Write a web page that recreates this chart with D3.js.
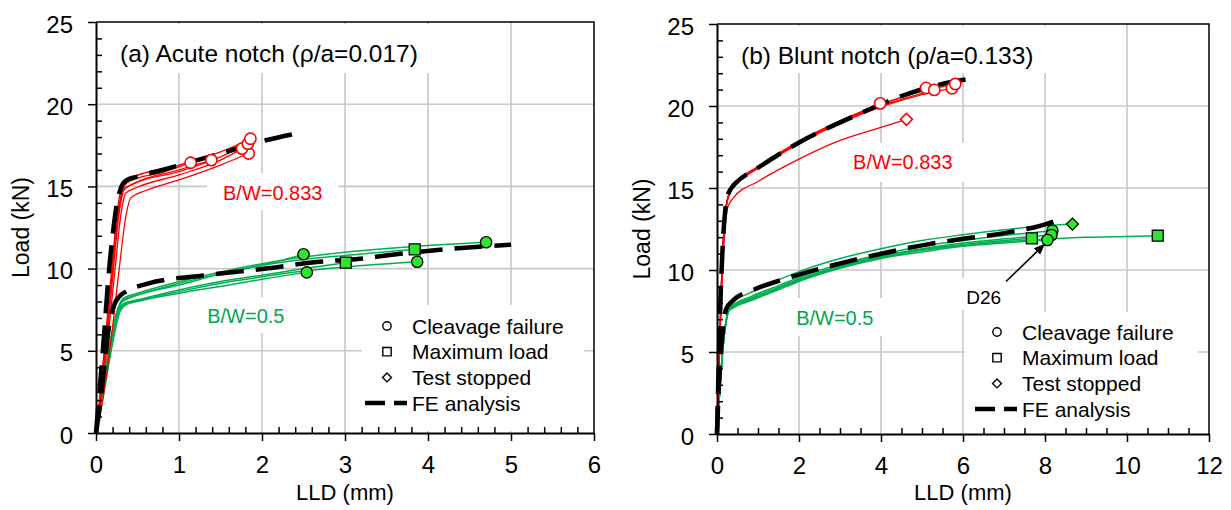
<!DOCTYPE html>
<html>
<head>
<meta charset="utf-8">
<title>Load vs LLD</title>
<script src="https://d3js.org/d3.v7.min.js" charset="utf-8"></script>
<style>
  body { margin: 0; background: #fff; }
  text { font-family: "Liberation Sans", Arial, sans-serif; }
</style>
</head>
<body>
<script>
// ---- data: [LLD (mm), Load (kN)] ----
var acuteRed = [
  [[0,0],[0.05,2],[0.12,5.6],[0.2,10],[0.27,13.5],[0.32,14.8],[0.4,15.3],[0.8,15.85],[1.14,16.44]],
  [[0,0],[0.05,2],[0.13,5.6],[0.21,10],[0.28,13.4],[0.34,14.8],[0.45,15.15],[1.0,16.0],[1.39,16.6]],
  [[0,0],[0.04,2],[0.11,5.6],[0.19,10],[0.26,13.6],[0.31,15.0],[0.4,15.45],[1.0,16.3],[1.5,17.1],[1.86,17.9]],
  [[0,0],[0.05,2],[0.12,5.6],[0.2,10],[0.27,13.4],[0.33,14.8],[0.45,15.15],[1.0,15.9],[1.5,16.8],[1.83,17.6]],
  [[0,0],[0.06,2],[0.14,5.6],[0.23,10],[0.3,13.3],[0.36,14.6],[0.5,14.95],[1.0,15.7],[1.5,16.6],[1.76,17.3]],
  [[0,0],[0.08,2],[0.18,5.6],[0.28,10],[0.36,13.2],[0.42,14.3],[0.6,14.75],[1.0,15.4],[1.5,16.3],[1.84,17.0]]
];
var acuteGreen = [
  [[0,0],[0.06,2],[0.16,5.2],[0.26,7.4],[0.32,8.0],[0.45,8.3],[1.0,9.0],[1.6,9.8],[2.0,10.2],[2.5,10.87]],
  [[0,0],[0.08,2],[0.19,5.2],[0.29,7.4],[0.36,7.8],[0.5,8.0],[1.0,8.5],[1.6,9.0],[2.0,9.35],[2.54,9.77]],
  [[0,0],[0.07,2],[0.17,5.2],[0.27,7.4],[0.34,7.9],[0.5,8.1],[1.0,8.7],[1.6,9.3],[2.0,9.6],[2.5,10.0],[3.01,10.36]],
  [[0,0],[0.06,2],[0.16,5.2],[0.26,7.5],[0.33,8.1],[0.5,8.4],[1.0,9.1],[1.6,9.8],[2.0,10.2],[2.5,10.55],[3.0,10.8],[3.84,11.17]],
  [[0,0],[0.07,2],[0.18,5.2],[0.28,7.4],[0.35,7.85],[0.5,8.05],[1.0,8.6],[1.6,9.2],[2.0,9.5],[2.5,9.85],[3.0,10.1],[3.87,10.42]],
  [[0,0],[0.06,2],[0.16,5.2],[0.26,7.5],[0.33,8.2],[0.5,8.5],[1.0,9.2],[1.6,9.9],[2.0,10.3],[2.5,10.7],[3.0,11.0],[3.84,11.35],[4.7,11.6]]
];
var acuteFE = [
  [[0,0],[0.03,1.8],[0.09,5.5],[0.15,9.5],[0.2,12],[0.25,13.9],[0.3,14.9],[0.36,15.35],[0.5,15.6],[0.8,16.0],[1.5,17.0],[2.0,17.75],[2.5,18.3]],
  [[0,0],[0.04,1.4],[0.1,4.0],[0.16,6.6],[0.22,7.8],[0.28,8.3],[0.36,8.6],[0.6,9.06],[1.33,9.6],[2.0,9.97],[2.66,10.4],[3.18,10.6],[3.66,10.9],[4.27,11.2],[5.0,11.45]]
];
var acuteMarks = [
  {x:1.14,y:16.44,shape:"circle",grp:"red"},{x:1.39,y:16.6,shape:"circle",grp:"red"},
  {x:1.84,y:17.0,shape:"circle",grp:"red"},{x:1.76,y:17.3,shape:"circle",grp:"red"},
  {x:1.83,y:17.6,shape:"circle",grp:"red"},{x:1.86,y:17.9,shape:"circle",grp:"red"},
  {x:2.5,y:10.87,shape:"circle",grp:"green"},{x:2.54,y:9.77,shape:"circle",grp:"green"},
  {x:3.01,y:10.36,shape:"square",grp:"green"},{x:3.84,y:11.17,shape:"square",grp:"green"},
  {x:3.87,y:10.42,shape:"circle",grp:"green"},{x:4.7,y:11.6,shape:"circle",grp:"green"}
];

var bluntRed = [
  [[0,0],[0.05,4],[0.1,8.5],[0.16,12],[0.22,13.8],[0.3,14.7],[0.5,15.4],[1.0,16.3],[2.0,17.8],[3.0,19.05],[3.98,20.16]],
  [[0,0],[0.05,4],[0.1,8.5],[0.16,12],[0.22,13.8],[0.3,14.6],[0.5,15.3],[1.0,16.2],[2.0,17.75],[3.0,19.0],[4.0,20.05],[5.1,21.1]],
  [[0,0],[0.05,4],[0.1,8.5],[0.16,12],[0.22,13.8],[0.3,14.65],[0.5,15.35],[1.0,16.25],[2.0,17.8],[3.0,19.05],[4.0,20.0],[5.3,20.98]],
  [[0,0],[0.05,4],[0.1,8.5],[0.16,12],[0.22,13.8],[0.3,14.6],[0.5,15.3],[1.0,16.2],[2.0,17.7],[3.0,18.95],[4.0,19.95],[5.0,20.7],[5.73,21.08]],
  [[0,0],[0.05,4],[0.1,8.5],[0.16,12],[0.22,13.8],[0.3,14.7],[0.5,15.4],[1.0,16.3],[2.0,17.85],[3.0,19.1],[4.0,20.1],[5.0,20.9],[5.81,21.34]],
  [[0,0],[0.05,4],[0.11,8.5],[0.18,12],[0.26,13.8],[0.4,14.4],[1.0,15.4],[1.95,16.7],[3.0,17.9],[4.0,18.7],[4.62,19.19]]
];
var bluntGreen = [
  [[0,0],[0.05,2],[0.12,4.5],[0.2,6.5],[0.28,7.5],[0.4,8.0],[0.8,8.6],[1.5,9.4],[2.0,9.9],[3,10.7],[4,11.3],[5,11.8],[6,12.15],[7,12.45],[8,12.7],[8.67,12.8]],
  [[0,0],[0.05,2],[0.12,4.5],[0.2,6.5],[0.28,7.5],[0.4,7.85],[0.8,8.35],[1.5,9.05],[2.0,9.55],[3,10.35],[4,10.95],[5,11.45],[6,11.8],[7,12.1],[8.18,12.4]],
  [[0,0],[0.05,2],[0.12,4.5],[0.2,6.5],[0.28,7.5],[0.4,7.8],[0.8,8.25],[1.5,8.95],[2.0,9.45],[3,10.25],[4,10.85],[5,11.3],[6,11.65],[7,11.9],[8.16,12.13]],
  [[0,0],[0.05,2],[0.12,4.5],[0.2,6.5],[0.28,7.45],[0.4,7.7],[0.8,8.1],[1.5,8.8],[2.0,9.3],[3,10.1],[4,10.7],[5,11.1],[6,11.45],[7,11.65],[8.06,11.83]],
  [[0,0],[0.05,2],[0.12,4.5],[0.2,6.5],[0.28,7.5],[0.4,7.75],[0.8,8.2],[1.5,8.9],[2.0,9.4],[3,10.2],[4,10.8],[5,11.25],[6,11.55],[7,11.8],[7.68,11.93]],
  [[0,0],[0.05,2],[0.12,4.5],[0.2,6.5],[0.28,7.5],[0.4,7.72],[0.8,8.15],[1.5,8.85],[2.0,9.35],[3,10.15],[4,10.75],[5,11.2],[6,11.5],[7,11.72],[8,11.88],[9,12.0],[10,12.05],[10.75,12.09]]
];
var bluntFE = [
  [[0,0],[0.04,4],[0.09,8.5],[0.15,12],[0.2,13.6],[0.26,14.5],[0.35,15.0],[0.49,15.38],[0.98,16.2],[1.95,17.7],[3.41,19.45],[4.55,20.65],[5.5,21.35],[6.3,21.7]],
  [[0,0],[0.03,2],[0.08,4.5],[0.15,6.5],[0.22,7.6],[0.4,8.17],[0.88,8.78],[1.7,9.49],[3.33,10.6],[5,11.5],[6,11.9],[7,12.25],[8.2,12.95],[8.3,13.05]]
];
var bluntMarks = [
  {x:3.98,y:20.16,shape:"circle",grp:"red"},{x:5.1,y:21.1,shape:"circle",grp:"red"},
  {x:5.3,y:20.98,shape:"circle",grp:"red"},{x:5.73,y:21.08,shape:"circle",grp:"red"},
  {x:5.81,y:21.34,shape:"circle",grp:"red"},{x:4.62,y:19.19,shape:"diamond",grp:"red"},
  {x:7.68,y:11.93,shape:"square",grp:"green"},{x:10.75,y:12.09,shape:"square",grp:"green"},
  {x:8.18,y:12.4,shape:"circle",grp:"green"},{x:8.16,y:12.13,shape:"circle",grp:"green"},
  {x:8.06,y:11.83,shape:"circle",grp:"green"},{x:8.67,y:12.8,shape:"diamond",grp:"green"}
];

var yTicks = [0, 5, 10, 15, 20, 25];
var legendItems = ["Cleavage failure", "Maximum load", "Test stopped", "FE analysis"];
var legendShapes = ["circle", "square", "diamond", "dash"];

var RED = "#ff0000", GREEN = "#00b050", GREENTXT = "#00a650", GREENFILL = "#2ee52e";

var svg = d3.select("body").append("svg")
    .attr("width", 1231).attr("height", 510);

svg.append("defs").append("marker").attr("id", "arrowhead")
    .attr("viewBox", "0 0 10 10").attr("refX", 9).attr("refY", 5)
    .attr("markerWidth", 7).attr("markerHeight", 7).attr("orient", "auto")
    .append("path").attr("d", "M0,1 L10,5 L0,9 Z").attr("fill", "#000");

function symbolPath(shape) {
  if (shape == "circle") return d3.symbol(d3.symbolCircle, 100)();
  if (shape == "square") return d3.symbol(d3.symbolSquare, 120)();
  return d3.symbol(d3.symbolSquare, 72)();
}

function drawPanel(p) {
  var x = d3.scaleLinear().domain([0, p.xMax]).range([p.left, p.right]);
  var y = d3.scaleLinear().domain([0, 25]).range([p.bottom, p.top]);

  // gridlines as one path, built from the scales
  var gridD = "";
  d3.range(p.xStep, p.xMax - 1e-9, p.xStep).forEach(function (v) {
    gridD += "M" + x(v) + "," + p.top + "V" + p.bottom;
  });
  yTicks.slice(1, -1).forEach(function (v) {
    gridD += "M" + p.left + "," + y(v) + "H" + p.right;
  });
  svg.append("path").attr("d", gridD).attr("fill", "none")
      .attr("stroke", "#c8c8c8").attr("stroke-width", 1.6);

  // white boxes behind the labels (break the grid like the original)
  svg.append("g").selectAll(null).data(p.boxes).enter().append("rect")
      .attr("x", d => d[0]).attr("y", d => d[1])
      .attr("width", d => d[2] - d[0]).attr("height", d => d[3] - d[1])
      .attr("fill", "#fff");

  var g = svg.append("g");
  var lines = g.append("g");
  var marks = g.append("g");
  var axes = g.append("g");
  var labels = g.append("g");

  var path = d3.line().x(d => x(d[0])).y(d => y(d[1])).curve(d3.curveMonotoneX);

  lines.selectAll(null).data(p.green).enter().append("path")
      .attr("d", path).attr("fill", "none").attr("stroke", GREEN).attr("stroke-width", 1.5);
  lines.selectAll(null).data(p.red).enter().append("path")
      .attr("d", path).attr("fill", "none").attr("stroke", RED).attr("stroke-width", 1.3);
  lines.selectAll(null).data(p.fe).enter().append("path")
      .attr("d", path).attr("fill", "none").attr("stroke", "#000").attr("stroke-width", 4.5)
      .attr("stroke-dasharray", "28,12");

  marks.selectAll(null).data(p.marks).enter().append("path")
      .attr("d", d => symbolPath(d.shape))
      .attr("transform", d => "translate(" + x(d.x) + "," + y(d.y) + ")" + (d.shape == "diamond" ? " rotate(45)" : ""))
      .attr("fill", d => d.grp == "red" ? "#fff" : GREENFILL)
      .attr("stroke", d => d.grp == "red" ? RED : "#000")
      .attr("stroke-width", d => d.grp == "red" ? 1.6 : 1.3);

  // annotation arrow (D26)
  if (p.arrow) {
    axes.append("line")
        .attr("x1", x(p.arrow.from[0])).attr("y1", y(p.arrow.from[1]))
        .attr("x2", x(p.arrow.to[0])).attr("y2", y(p.arrow.to[1]))
        .attr("stroke", "#000").attr("stroke-width", 1.6).attr("marker-end", "url(#arrowhead)");
  }

  // axes: minor ticks inward, major ticks outward
  var xMinor = d3.range(0, p.xMax + 1e-9, p.xMinorStep).filter(v => Math.abs(v / p.xStep - Math.round(v / p.xStep)) > 1e-6);
  var yMinor = d3.range(0, 26, 1).filter(v => v % 5 != 0);

  var xm = axes.append("g").attr("transform", "translate(0," + p.bottom + ")")
      .call(d3.axisBottom(x).tickValues(xMinor).tickSize(-6).tickFormat(""));
  var ym = axes.append("g").attr("transform", "translate(" + p.left + ",0)")
      .call(d3.axisLeft(y).tickValues(yMinor).tickSize(-6).tickFormat(""));
  xm.select(".domain").remove();
  ym.select(".domain").remove();

  var xa = axes.append("g").attr("transform", "translate(0," + p.bottom + ")")
      .call(d3.axisBottom(x).tickValues(d3.range(0, p.xMax + 1e-9, p.xStep))
        .tickFormat(d3.format("d")).tickSizeInner(8).tickSizeOuter(0).tickPadding(15));
  var ya = axes.append("g").attr("transform", "translate(" + p.left + ",0)")
      .call(d3.axisLeft(y).tickValues(yTicks)
        .tickFormat(d3.format("d")).tickSizeInner(8).tickSizeOuter(0).tickPadding(15));
  [xa, ya].forEach(a => {
    a.selectAll("text").attr("font-size", 24).attr("fill", "#000")
        .attr("font-family", '"Liberation Sans", Arial, sans-serif');
    a.select(".domain").attr("stroke", "#000").attr("stroke-width", 2);
  });
  ya.selectAll("text").attr("dy", "0.42em");
  [xm, ym, xa, ya].forEach(a => a.selectAll(".tick line").attr("stroke", "#000").attr("stroke-width", 1.5));

  // top / right border
  axes.append("path")
      .attr("d", "M" + p.left + "," + p.top + "H" + p.right + "V" + p.bottom)
      .attr("fill", "none").attr("stroke", "#000").attr("stroke-width", 1.5);

  // axis titles
  labels.append("text").attr("x", (p.left + p.right) / 2).attr("y", 500)
      .attr("text-anchor", "middle").attr("font-size", 22).text("LLD (mm)");
  labels.append("text")
      .attr("transform", "translate(" + (p.left - 67) + "," + ((p.top + p.bottom) / 2) + ") rotate(-90)")
      .attr("text-anchor", "middle").attr("font-size", 23).text("Load (kN)");

  labels.append("text").attr("x", p.left + 24).attr("y", p.top + 40)
      .attr("font-size", 24.5).attr("fill", "#000").text(p.title);
  p.tags.forEach(function (d) {
    labels.append("text").attr("x", x(d.x)).attr("y", y(d.y))
        .attr("font-size", d.size).attr("fill", d.color).text(d.text);
  });

  // legend
  var lx = p.left + p.legend[0], ly = p.top + p.legend[1];
  var lg = labels.append("g").attr("transform", "translate(" + lx + "," + ly + ")");
  legendItems.forEach(function (name, i) {
    var cy = i * 25.7;
    if (legendShapes[i] == "dash") {
      lg.append("line").attr("x1", -22).attr("x2", 20).attr("y1", cy).attr("y2", cy)
          .attr("stroke", "#000").attr("stroke-width", 4.5).attr("stroke-dasharray", "20,9");
    } else {
      var s = legendShapes[i];
      lg.append("path")
          .attr("d", s == "circle" ? d3.symbol(d3.symbolCircle, 55)() : s == "square" ? d3.symbol(d3.symbolSquare, 70)() : d3.symbol(d3.symbolSquare, 40)())
          .attr("transform", "translate(0," + cy + ")" + (s == "diamond" ? " rotate(45)" : ""))
          .attr("fill", "#fff").attr("stroke", "#000").attr("stroke-width", 1.4);
    }
    lg.append("text").attr("x", 25).attr("y", cy).attr("dy", "0.36em")
        .attr("font-size", 21).attr("fill", "#000").text(name);
  });
}

drawPanel({
  left: 96, right: 594, top: 22, bottom: 433, xMax: 6, xStep: 1, xMinorStep: 0.2,
  title: "(a) Acute notch (\u03c1/a=0.017)",
  red: acuteRed, green: acuteGreen, fe: acuteFE, marks: acuteMarks,
  tags: [
    {text: "B/W=0.833", x: 1.53, y: 14.17, color: RED, size: 20},
    {text: "B/W=0.5", x: 1.34, y: 6.71, color: GREENTXT, size: 20}
  ],
  boxes: [[100, 24, 445, 73], [207, 173, 338, 210], [198, 297, 296, 333], [362, 305, 584, 431]],
  legend: [291, 304]
});

drawPanel({
  left: 717, right: 1209, top: 24, bottom: 434, xMax: 12, xStep: 2, xMinorStep: 0.5,
  title: "(b) Blunt notch (\u03c1/a=0.133)",
  red: bluntRed, green: bluntGreen, fe: bluntFE, marks: bluntMarks,
  tags: [
    {text: "B/W=0.833", x: 3.32, y: 16.14, color: RED, size: 20},
    {text: "B/W=0.5", x: 1.93, y: 6.65, color: GREENTXT, size: 20},
    {text: "D26", x: 6.08, y: 7.9, color: "#000", size: 19}
  ],
  boxes: [[720, 26, 1058, 73], [842, 143, 968, 182], [786, 298, 888, 336], [965, 312, 1198, 432], [960, 278, 1008, 310]],
  arrow: {from: [7.05, 9.3], to: [7.98, 11.55]},
  legend: [280, 308]
});
</script>
</body>
</html>
